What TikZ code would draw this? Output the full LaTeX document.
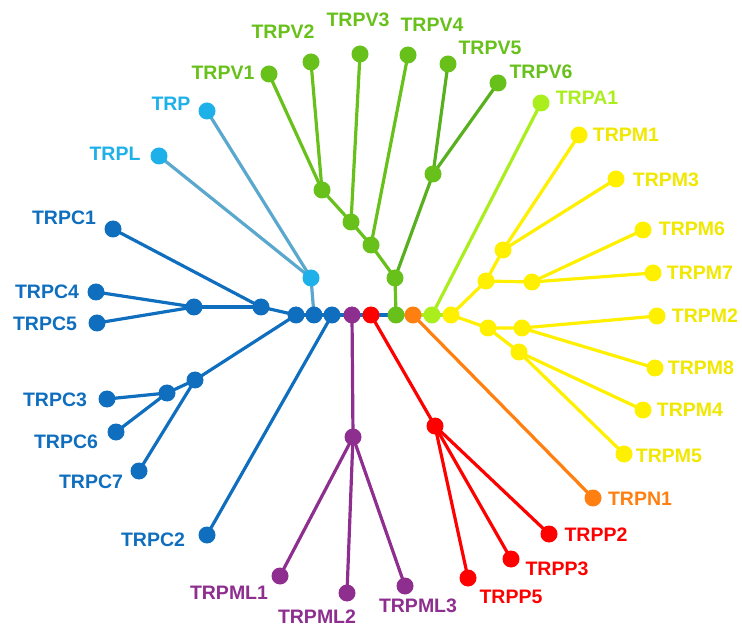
\documentclass[tikz,border=0pt]{standalone}
\usepackage{fontspec}
\setmainfont{Liberation Sans}
\usetikzlibrary{backgrounds}
\definecolor{cblue}{RGB}{16,110,190}
\definecolor{clblue}{RGB}{30,176,232}
\definecolor{clbline}{RGB}{90,168,205}
\definecolor{cpurple}{RGB}{142,46,143}
\definecolor{cred}{RGB}{255,0,0}
\definecolor{cgreen}{RGB}{104,192,26}
\definecolor{cdgreen}{RGB}{88,176,30}
\definecolor{corange}{RGB}{255,128,16}
\definecolor{clgreen}{RGB}{170,238,30}
\definecolor{cyellow}{RGB}{255,240,0}
\definecolor{cytext}{RGB}{240,232,0}
\tikzset{
  dot/.style={circle,fill=#1,inner sep=0pt,minimum size=17pt},
  lab/.style={text=#1,font=\fontsize{19.5}{20}\selectfont\bfseries,inner sep=0pt},
  br/.style={draw=#1,line width=3.2pt}
}
\begin{document}
\begin{tikzpicture}[x=1pt,y=-1pt]
\useasboundingbox (0,0) rectangle (742,628);
% backbone
\node[dot=cblue] (b1) at (296,315) {};
\node[dot=cblue] (b2) at (314,315) {};
\node[dot=cblue] (b3) at (332,315) {};
\node[dot=cpurple] (pu) at (352,315) {};
\node[dot=cred] (re) at (371,315) {};
\node[dot=cgreen] (gr) at (396,315) {};
\node[dot=corange] (or) at (413,315) {};
\node[dot=clgreen] (lg) at (432,315) {};
\node[dot=cyellow] (ye) at (451,315) {};
% light blue TRP
\node[dot=clblue] (t0) at (311,278) {};
\node[dot=clblue] (trp) at (207,111) {};
\node[dot=clblue] (trpl) at (159,156) {};
% blue TRPC
\node[dot=cblue] (c0) at (261,307) {};
\node[dot=cblue] (c1) at (113,229) {};
\node[dot=cblue] (c45) at (194,307) {};
\node[dot=cblue] (c4) at (96,292) {};
\node[dot=cblue] (c5) at (97,323) {};
\node[dot=cblue] (c367) at (195,380) {};
\node[dot=cblue] (c36) at (167,393) {};
\node[dot=cblue] (c3) at (107,399) {};
\node[dot=cblue] (c6) at (116,432) {};
\node[dot=cblue] (c7) at (139,471) {};
\node[dot=cblue] (c2) at (207,535) {};
% purple
\node[dot=cpurple] (m0) at (353,437) {};
\node[dot=cpurple] (ml1) at (280,576) {};
\node[dot=cpurple] (ml2) at (347,593) {};
\node[dot=cpurple] (ml3) at (405,586) {};
% red
\node[dot=cred] (p0) at (435,426) {};
\node[dot=cred] (p2) at (549,534) {};
\node[dot=cred] (p3) at (511,559) {};
\node[dot=cred] (p5) at (468,578) {};
% orange
\node[dot=corange] (n1) at (593,498) {};
% light green
\node[dot=clgreen] (a1) at (541,103) {};
% green TRPV
\node[dot=cgreen] (v0) at (395,278) {};
\node[dot=cgreen] (v56) at (433,174) {};
\node[dot=cgreen] (v5) at (448,64) {};
\node[dot=cgreen] (v6) at (498,83) {};
\node[dot=cgreen] (v1234) at (371,245) {};
\node[dot=cgreen] (v4) at (408,55) {};
\node[dot=cgreen] (v123) at (351,222) {};
\node[dot=cgreen] (v3) at (360,54) {};
\node[dot=cgreen] (v12) at (322,190) {};
\node[dot=cgreen] (v1) at (269,74) {};
\node[dot=cgreen] (v2) at (311,62) {};
% yellow TRPM
\node[dot=cyellow] (y1) at (486,281) {};
\node[dot=cyellow] (y13) at (503,250) {};
\node[dot=cyellow] (mm1) at (579,135) {};
\node[dot=cyellow] (mm3) at (616,179) {};
\node[dot=cyellow] (y67) at (532,282) {};
\node[dot=cyellow] (mm6) at (643,230) {};
\node[dot=cyellow] (mm7) at (653,273) {};
\node[dot=cyellow] (y2) at (488,328) {};
\node[dot=cyellow] (y28) at (522,328) {};
\node[dot=cyellow] (mm2) at (657,316) {};
\node[dot=cyellow] (mm8) at (655,368) {};
\node[dot=cyellow] (y45) at (519,352) {};
\node[dot=cyellow] (mm4) at (643,410) {};
\node[dot=cyellow] (mm5) at (624,454) {};
% labels
\node[lab=clblue] (Ltrp) at (171,104) {TRP};
\node[lab=clblue] (Ltrpl) at (115,154) {TRPL};
\node[lab=cblue] (Lc1) at (64,218) {TRPC1};
\node[lab=cblue] (Lc4) at (47,292) {TRPC4};
\node[lab=cblue] (Lc5) at (45,324) {TRPC5};
\node[lab=cblue] (Lc3) at (55,400) {TRPC3};
\node[lab=cblue] (Lc6) at (66,442) {TRPC6};
\node[lab=cblue] (Lc7) at (91,482) {TRPC7};
\node[lab=cblue] (Lc2) at (153,540) {TRPC2};
\node[lab=cpurple] (Lml1) at (229,593) {TRPML1};
\node[lab=cpurple] (Lml2) at (317,617) {TRPML2};
\node[lab=cpurple] (Lml3) at (418,606) {TRPML3};
\node[lab=cred] (Lp5) at (511,597) {TRPP5};
\node[lab=cred] (Lp3) at (557,569) {TRPP3};
\node[lab=cred] (Lp2) at (596,535) {TRPP2};
\node[lab=corange] (Ln1) at (640,499) {TRPN1};
\node[lab=cytext] (Lm5) at (669,456) {TRPM5};
\node[lab=cytext] (Lm4) at (690,410) {TRPM4};
\node[lab=cytext] (Lm8) at (701,368) {TRPM8};
\node[lab=cytext] (Lm2) at (705,316) {TRPM2};
\node[lab=cytext] (Lm7) at (700,273) {TRPM7};
\node[lab=cytext] (Lm6) at (692,229) {TRPM6};
\node[lab=cytext] (Lm3) at (666,180) {TRPM3};
\node[lab=cytext] (Lm1) at (626,135) {TRPM1};
\node[lab=clgreen] (La1) at (587,98) {TRPA1};
\node[lab=cgreen] (Lv6) at (541,72) {TRPV6};
\node[lab=cgreen] (Lv5) at (490,48) {TRPV5};
\node[lab=cgreen] (Lv4) at (432,25) {TRPV4};
\node[lab=cgreen] (Lv3) at (358,20) {TRPV3};
\node[lab=cgreen] (Lv2) at (283,32) {TRPV2};
\node[lab=cgreen] (Lv1) at (223,73) {TRPV1};
\begin{pgfonlayer}{background}
% backbone
\draw[br=cblue] (b1.center) -- (b2.center) -- (b3.center) -- (pu.center) -- (re.center) -- (gr.center);
\draw[br=clgreen] (gr.center) -- (or.center) -- (lg.center) -- (ye.center);
% TRP
\draw[br=clbline] (b2.center) -- (t0.center);
\draw[br=clbline] (t0.center) -- (trp.center);
\draw[br=clbline] (t0.center) -- (trpl.center);
% TRPC
\draw[br=cblue] (b1.center) -- (c0.center) -- (c1.center);
\draw[br=cblue] (c0.center) -- (c45.center);
\draw[br=cblue] (c45.center) -- (c4.center);
\draw[br=cblue] (c45.center) -- (c5.center);
\draw[br=cblue] (b1.center) -- (c367.center) -- (c36.center);
\draw[br=cblue] (c36.center) -- (c3.center);
\draw[br=cblue] (c36.center) -- (c6.center);
\draw[br=cblue] (c367.center) -- (c7.center);
\draw[br=cblue] (b3.center) -- (c2.center);
% purple
\draw[br=cpurple] (pu.center) -- (m0.center);
\draw[br=cpurple] (m0.center) -- (ml1.center);
\draw[br=cpurple] (m0.center) -- (ml2.center);
\draw[br=cpurple] (m0.center) -- (ml3.center);
% red
\draw[br=cred] (re.center) -- (p0.center);
\draw[br=cred] (p0.center) -- (p2.center);
\draw[br=cred] (p0.center) -- (p3.center);
\draw[br=cred] (p0.center) -- (p5.center);
% orange
\draw[br=corange] (or.center) -- (n1.center);
% light green
\draw[br=clgreen] (lg.center) -- (a1.center);
% TRPV
\draw[br=cgreen] (gr.center) -- (v0.center);
\draw[br=cdgreen] (v0.center) -- (v56.center);
\draw[br=cdgreen] (v56.center) -- (v5.center);
\draw[br=cdgreen] (v56.center) -- (v6.center);
\draw[br=cgreen] (v0.center) -- (v1234.center) -- (v123.center) -- (v12.center);
\draw[br=cgreen] (v1234.center) -- (v4.center);
\draw[br=cgreen] (v123.center) -- (v3.center);
\draw[br=cgreen] (v12.center) -- (v1.center);
\draw[br=cgreen] (v12.center) -- (v2.center);
% TRPM
\draw[br=cyellow] (ye.center) -- (y1.center) -- (y13.center);
\draw[br=cyellow] (y13.center) -- (mm1.center);
\draw[br=cyellow] (y13.center) -- (mm3.center);
\draw[br=cyellow] (y1.center) -- (y67.center);
\draw[br=cyellow] (y67.center) -- (mm6.center);
\draw[br=cyellow] (y67.center) -- (mm7.center);
\draw[br=cyellow] (ye.center) -- (y2.center) -- (y28.center);
\draw[br=cyellow] (y28.center) -- (mm2.center);
\draw[br=cyellow] (y28.center) -- (mm8.center);
\draw[br=cyellow] (y2.center) -- (y45.center);
\draw[br=cyellow] (y45.center) -- (mm4.center);
\draw[br=cyellow] (y45.center) -- (mm5.center);
\end{pgfonlayer}
\end{tikzpicture}
\end{document}
